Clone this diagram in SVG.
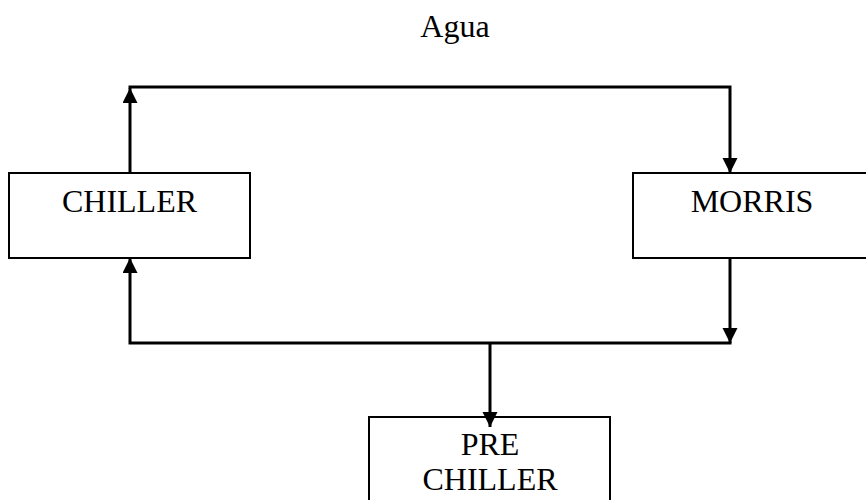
<svg xmlns="http://www.w3.org/2000/svg" width="866" height="500" viewBox="0 0 866 500">
<style>
.box{fill:#fff;stroke:#000;stroke-width:2}
.lbl{font-family:"Liberation Serif","Times New Roman",serif;font-size:32px;fill:#000;text-anchor:middle}
.ln{fill:none;stroke:#000;stroke-width:3}
</style>
<defs>
<marker id="ah" markerWidth="15" markerHeight="16" refX="15" refY="7.5" orient="auto" markerUnits="userSpaceOnUse">
<path d="M0,0 L15,7.5 L0,15 Z" fill="#000"/>
</marker>
</defs>
<rect width="866" height="500" fill="#fff"/>
<text class="lbl" x="455" y="37">Agua</text>
<g id="chiller">
<rect class="box" x="9" y="173" width="241" height="85"/>
<text class="lbl" x="129.5" y="212">CHILLER</text>
</g>
<g id="morris">
<rect class="box" x="633" y="173" width="250" height="85"/>
<text class="lbl" x="752" y="212">MORRIS</text>
</g>
<g id="prechiller">
<rect class="box" x="369" y="417" width="241" height="100"/>
<text class="lbl" x="490" y="455">PRE</text>
<text class="lbl" x="490" y="490">CHILLER</text>
</g>
<g id="connectors">
<line class="ln" x1="130" y1="173" x2="130" y2="88" marker-end="url(#ah)"/>
<polyline class="ln" points="128.5,87 730,87 730,173" marker-end="url(#ah)"/>
<line class="ln" x1="730" y1="258" x2="730" y2="343" marker-end="url(#ah)"/>
<polyline class="ln" points="731.5,343 130,343 130,258" marker-end="url(#ah)"/>
<line class="ln" x1="490" y1="343" x2="490" y2="427" marker-end="url(#ah)"/>
</g>
</svg>
